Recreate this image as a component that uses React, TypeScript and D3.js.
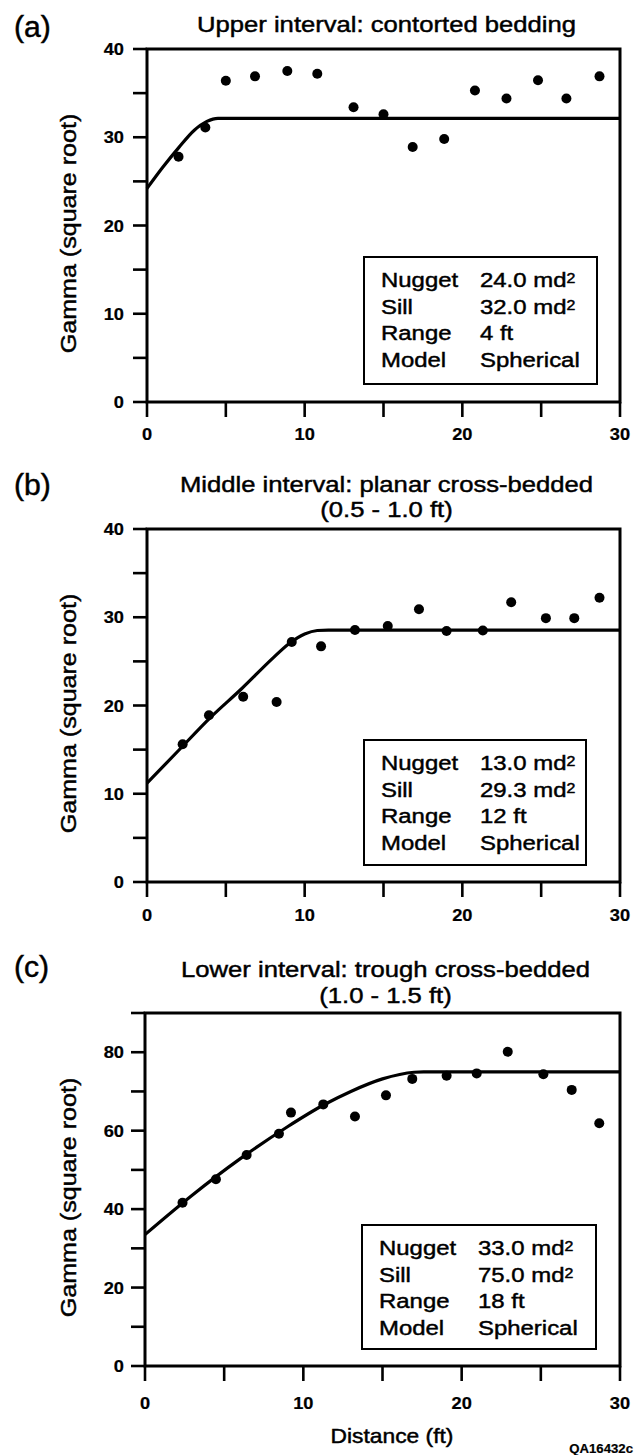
import React from 'react';
import * as d3 from 'd3';

// panel (a) – upper interval
const distA = [2.0, 3.7, 5.0, 6.85, 8.9, 10.8, 13.1, 15.0, 16.85, 18.85, 20.8, 22.8, 24.8, 26.6, 28.7];
const gammaA = [27.8, 31.1, 36.4, 36.9, 37.5, 37.2, 33.4, 32.6, 28.9, 29.8, 35.3, 34.4, 36.45, 34.4, 36.9];
const modelDistA = [0, 1, 2, 3, 3.8, 4.5, 30];
const modelGammaA = [24.2, 26.6, 28.8, 30.8, 31.8, 32.15, 32.15];

// panel (b) – middle interval
const distB = [2.26, 3.93, 6.1, 8.22, 9.18, 11.04, 13.19, 15.27, 17.25, 19.0, 21.3, 23.1, 25.3, 27.1, 28.7];
const gammaB = [15.6, 18.9, 21.0, 20.4, 27.2, 26.7, 28.55, 29.0, 30.9, 28.45, 28.5, 31.7, 29.9, 29.9, 32.2];
const modelDistB = [0, 2, 4, 6, 8, 9, 10, 10.8, 11.5, 30];
const modelGammaB = [11.2, 14.9, 18.6, 21.9, 25.4, 27.0, 28.1, 28.5, 28.55, 28.55];

// panel (c) – lower interval
const distC = [2.37, 4.48, 6.42, 8.46, 9.22, 11.26, 13.26, 15.22, 16.88, 19.05, 20.95, 22.91, 25.16, 26.95, 28.69];
const gammaC = [41.6, 47.6, 53.8, 59.2, 64.6, 66.7, 63.6, 69.0, 73.2, 74.0, 74.6, 80.1, 74.4, 70.4, 61.9];
const modelDistC = [0, 3, 6, 9, 11.3, 13, 15, 17, 17.6, 30];
const modelGammaC = [33.5, 43.6, 52.8, 61.0, 66.6, 70.0, 73.2, 74.9, 75.0, 75.0];

const tags = ['(a)', '(b)', '(c)'];
const titles = [
  ['Upper interval: contorted bedding'],
  ['Middle interval: planar cross-bedded', '(0.5 - 1.0 ft)'],
  ['Lower interval: trough cross-bedded', '(1.0 - 1.5 ft)'],
];
const legendKeys = ['Nugget', 'Sill', 'Range', 'Model'];
const legendA = ['24.0 md|2', '32.0 md|2', '4 ft', 'Spherical'];
const legendB = ['13.0 md|2', '29.3 md|2', '12 ft', 'Spherical'];
const legendC = ['33.0 md|2', '75.0 md|2', '18 ft', 'Spherical'];
const yMaxes = [40, 40, 90];
const xMax = 30;
const yTitle = 'Gamma (square root)';
const xTitle = 'Distance (ft)';
const figId = 'QA16432c';

const FONT = 'Liberation Sans, Arial, Helvetica, sans-serif';
const SX = 1.14; // the scanned lettering is wider than Arial

const Txt = ({ x, y, size, anchor = 'start', weight = 'normal', rotate = 0, sx = SX, children }: any) => (
  <g transform={`translate(${x},${y})${rotate ? ` rotate(${rotate})` : ''} scale(${sx},1)`}>
    <text fontSize={size} textAnchor={anchor} fontWeight={weight} fontFamily={FONT} fill="#000"
      stroke="#000" strokeWidth={weight === 'bold' ? 0.2 : 0.45}>
      {children}
    </text>
  </g>
);

const layout = [
  { top: 49, bottom: 402, left: 147, right: 620, yStep: 5, yLab: 10, tagY: 37, titleY: [32],
    box: [364, 597, 257, 384], xLabDy: 38 },
  { top: 529, bottom: 882, left: 147, right: 620, yStep: 5, yLab: 10, tagY: 495, titleY: [492, 517],
    box: [364, 586, 740, 865], xLabDy: 39 },
  { top: 1013, bottom: 1366, left: 145, right: 620, yStep: 10, yLab: 20, tagY: 977, titleY: [977, 1003],
    box: [362, 596, 1225, 1349], xLabDy: 43 },
];

const series = [
  { dist: distA, gamma: gammaA, mDist: modelDistA, mGamma: modelGammaA, legend: legendA },
  { dist: distB, gamma: gammaB, mDist: modelDistB, mGamma: modelGammaB, legend: legendB },
  { dist: distC, gamma: gammaC, mDist: modelDistC, mGamma: modelGammaC, legend: legendC },
];

const Panel = ({ i }: { i: number }) => {
  const L = layout[i];
  const S = series[i];
  const x = d3.scaleLinear().domain([0, xMax]).range([L.left, L.right]);
  const y = d3.scaleLinear().domain([0, yMaxes[i]]).range([L.bottom, L.top]);
  const line = d3
    .line<number>()
    .x((_, k) => x(S.mDist[k]))
    .y((g) => y(g))
    .curve(d3.curveMonotoneX);
  const yTicks = d3.range(0, yMaxes[i] + 0.01, L.yStep);
  const xTicks = d3.range(0, xMax + 0.01, 5);
  const cx = (L.left + L.right) / 2 + 3;
  const [bx0, bx1, by0, by1] = L.box;

  return (
    <g>
      <Txt x={14} y={L.tagY} size={29} sx={1.04}>{tags[i]}</Txt>
      {titles[i].map((t, k) => (
        <Txt key={k} x={cx} y={L.titleY[k]} size={22.5} anchor="middle">{t}</Txt>
      ))}

      {/* model curve */}
      <path d={line(S.mGamma) || ''} fill="none" stroke="#000" strokeWidth={3.2} strokeLinejoin="round" />

      {/* frame */}
      <rect x={L.left} y={L.top} width={L.right - L.left} height={L.bottom - L.top}
        fill="none" stroke="#000" strokeWidth={3} />

      {yTicks.map((t) => (
        <line key={'y' + t} x1={L.left - 14} x2={L.left} y1={y(t)} y2={y(t)} stroke="#000" strokeWidth={2.6} />
      ))}
      {yTicks.filter((t) => t % L.yLab === 0).map((t) => (
        <Txt key={'yl' + t} x={124} y={y(t) + 6} size={16} weight="bold" anchor="end">{t}</Txt>
      ))}
      {xTicks.map((t) => (
        <line key={'x' + t} x1={x(t)} x2={x(t)} y1={L.bottom} y2={L.bottom + 15} stroke="#000" strokeWidth={2.6} />
      ))}
      {xTicks.filter((t) => t % 10 === 0).map((t) => (
        <Txt key={'xl' + t} x={x(t)} y={L.bottom + L.xLabDy} size={16} weight="bold" anchor="middle">{t}</Txt>
      ))}

      <Txt x={76} y={(L.top + L.bottom) / 2 + 8} size={22} anchor="middle" rotate={-90}>{yTitle}</Txt>

      {/* observed points */}
      {S.dist.map((d, k) => (
        <circle key={k} cx={x(d)} cy={y(S.gamma[k])} r={5} fill="#000" />
      ))}

      {/* legend box */}
      <rect x={bx0} y={by0} width={bx1 - bx0} height={by1 - by0} fill="#fff" stroke="#000" strokeWidth={2} />
      {legendKeys.map((key, k) => {
        const [val, sup] = S.legend[k].split('|');
        const by = by0 + 30 + k * 26.5;
        return (
          <g key={key}>
            <Txt x={bx0 + 17} y={by} size={21}>{key}</Txt>
            <Txt x={bx0 + 116} y={by} size={21}>
              {val}
              {sup && <tspan fontSize={14} dy={-4}>{sup}</tspan>}
            </Txt>
          </g>
        );
      })}
    </g>
  );
};

const App: React.FC = () => (
  <svg width={635} height={1455} style={{ position: 'absolute', left: 0, top: 0, background: '#fff' }}>
    <rect width={635} height={1455} fill="#fff" />
    {[0, 1, 2].map((i) => (
      <Panel key={i} i={i} />
    ))}
    <Txt x={392} y={1443} size={20} anchor="middle">{xTitle}</Txt>
    <Txt x={633} y={1453} size={12} weight="bold" anchor="end" sx={1.1}>{figId}</Txt>
  </svg>
);

export default App;
